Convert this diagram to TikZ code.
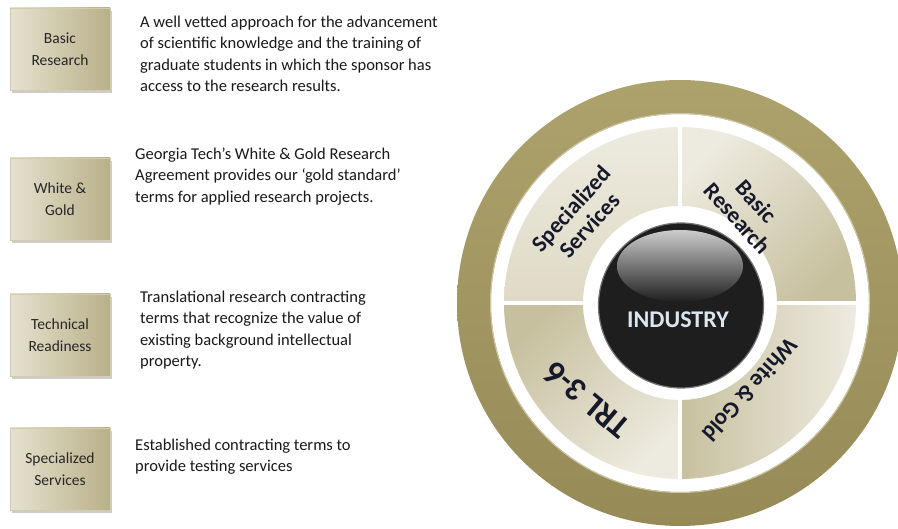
\documentclass[tikz,border=0pt]{standalone}
\usepackage{fontspec}
\setmainfont{Carlito}
\usetikzlibrary{positioning,shadows}

\definecolor{boxlight}{HTML}{E6E2CF}
\definecolor{boxdark}{HTML}{B9B089}
\definecolor{boxedge}{HTML}{D2CBAD}
\definecolor{ringtop}{HTML}{ADA26C}
\definecolor{ringbot}{HTML}{968B57}
\definecolor{seglight}{HTML}{EDEBE0}
\definecolor{segmid}{HTML}{DEDAC5}
\definecolor{segdark}{HTML}{C7C09F}
\definecolor{hub}{HTML}{1E1E1E}
\definecolor{hubtext}{HTML}{DCE6F0}
\definecolor{lbltext}{HTML}{16192A}

\begin{document}
\begin{tikzpicture}[x=1pt,y=-1pt]
      \tikzstyle{card}=[rectangle, minimum width=100pt, minimum height=82pt, draw=boxedge, left color=boxlight, right color=boxdark, align=center, text=black!85, font=\fontsize{15.5}{22}\selectfont, drop shadow={shadow xshift=2pt, shadow yshift=-3pt, fill=black!40, opacity=.5}]
      \tikzstyle{desc}=[anchor=north west, align=left, inner sep=0pt, text=black!90, font=\fontsize{16.5}{21.5}\selectfont]
      \tikzstyle{sepline}=[white, line width=4pt]
      \tikzstyle{wheellbl}=[align=center, text=lbltext, font=\bfseries\fontsize{23}{25}\selectfont]

      \useasboundingbox (0,0) rectangle (898,529);

      % program boxes
      \node[card] (basic) at (60,49) {Basic\\Research};
      \node[card] (white) at (60,199) {White \&\\Gold};
      \node[card] (tech) at (60,335) {Technical\\Readiness};
      \node[card] (spec) at (60,469) {Specialized\\Services};

      % descriptions
      \node[desc] (basictxt) at (140,12) {\strut A well vetted approach for the advancement\\of scientific knowledge and the training of\\graduate students in which the sponsor has\\access to the research results.};
      \node[desc] (whitetxt) at (135,144) {\strut Georgia Tech’s White \& Gold Research\\Agreement provides our ‘gold standard’\\terms for applied research projects.};
      \node[desc] (techtxt) at (140,287) {\strut Translational research contracting\\terms that recognize the value of\\existing background intellectual\\property.};
      \node[desc] (spectxt) at (135,435) {\strut Established contracting terms to\\provide testing services};

      % wheel
      \begin{scope}[shift={(680,303)}, y=1pt]
        \shade[top color=ringtop, bottom color=ringbot, even odd rule] (0,0) circle (223) (0,0) circle (189);
        \draw[ringtop!60!white, line width=1pt] (0,0) circle (189.5);
        \foreach \a/\ca/\cb/\sa in {0/seglight/segdark/45, 90/seglight/segmid/0, 180/segdark/seglight/45, 270/segdark/seglight/90}
          \shade[top color=\ca, bottom color=\cb, shading angle=\sa] (\a:176) arc[start angle=\a, end angle=\a+90, radius=176] -- (\a+90:97) arc[start angle=\a+90, end angle=\a, radius=97] -- cycle;
        \foreach \a in {0,90,180,270}
          \draw[sepline] (\a:92) -- (\a:180);

        \fill[hub] (1,-2.5) circle (82.5);
        \shade[top color=black!20, bottom color=hub] (0,37) ellipse (63 and 36);
        \draw[black!55, line width=1.2pt] (1,-2.5) circle (82.5);
        \node[text=hubtext, font=\bfseries\fontsize{24}{24}\selectfont] (industry) at (-2,-17) {INDUSTRY};

        \node[wheellbl, rotate=48] (speclbl) at (-100,86) {Specialized\\Services};
        \node[wheellbl, rotate=-48] (basiclbl) at (67,93) {Basic\\Research};
        \node[wheellbl, rotate=-132] (whitelbl) at (70,-87) {White \& Gold};
        \node[wheellbl, rotate=140, font=\bfseries\fontsize{33}{33}\selectfont] (trllbl) at (-93,-97) {TRL 3-6};
      \end{scope}
    \end{tikzpicture}
\end{document}
